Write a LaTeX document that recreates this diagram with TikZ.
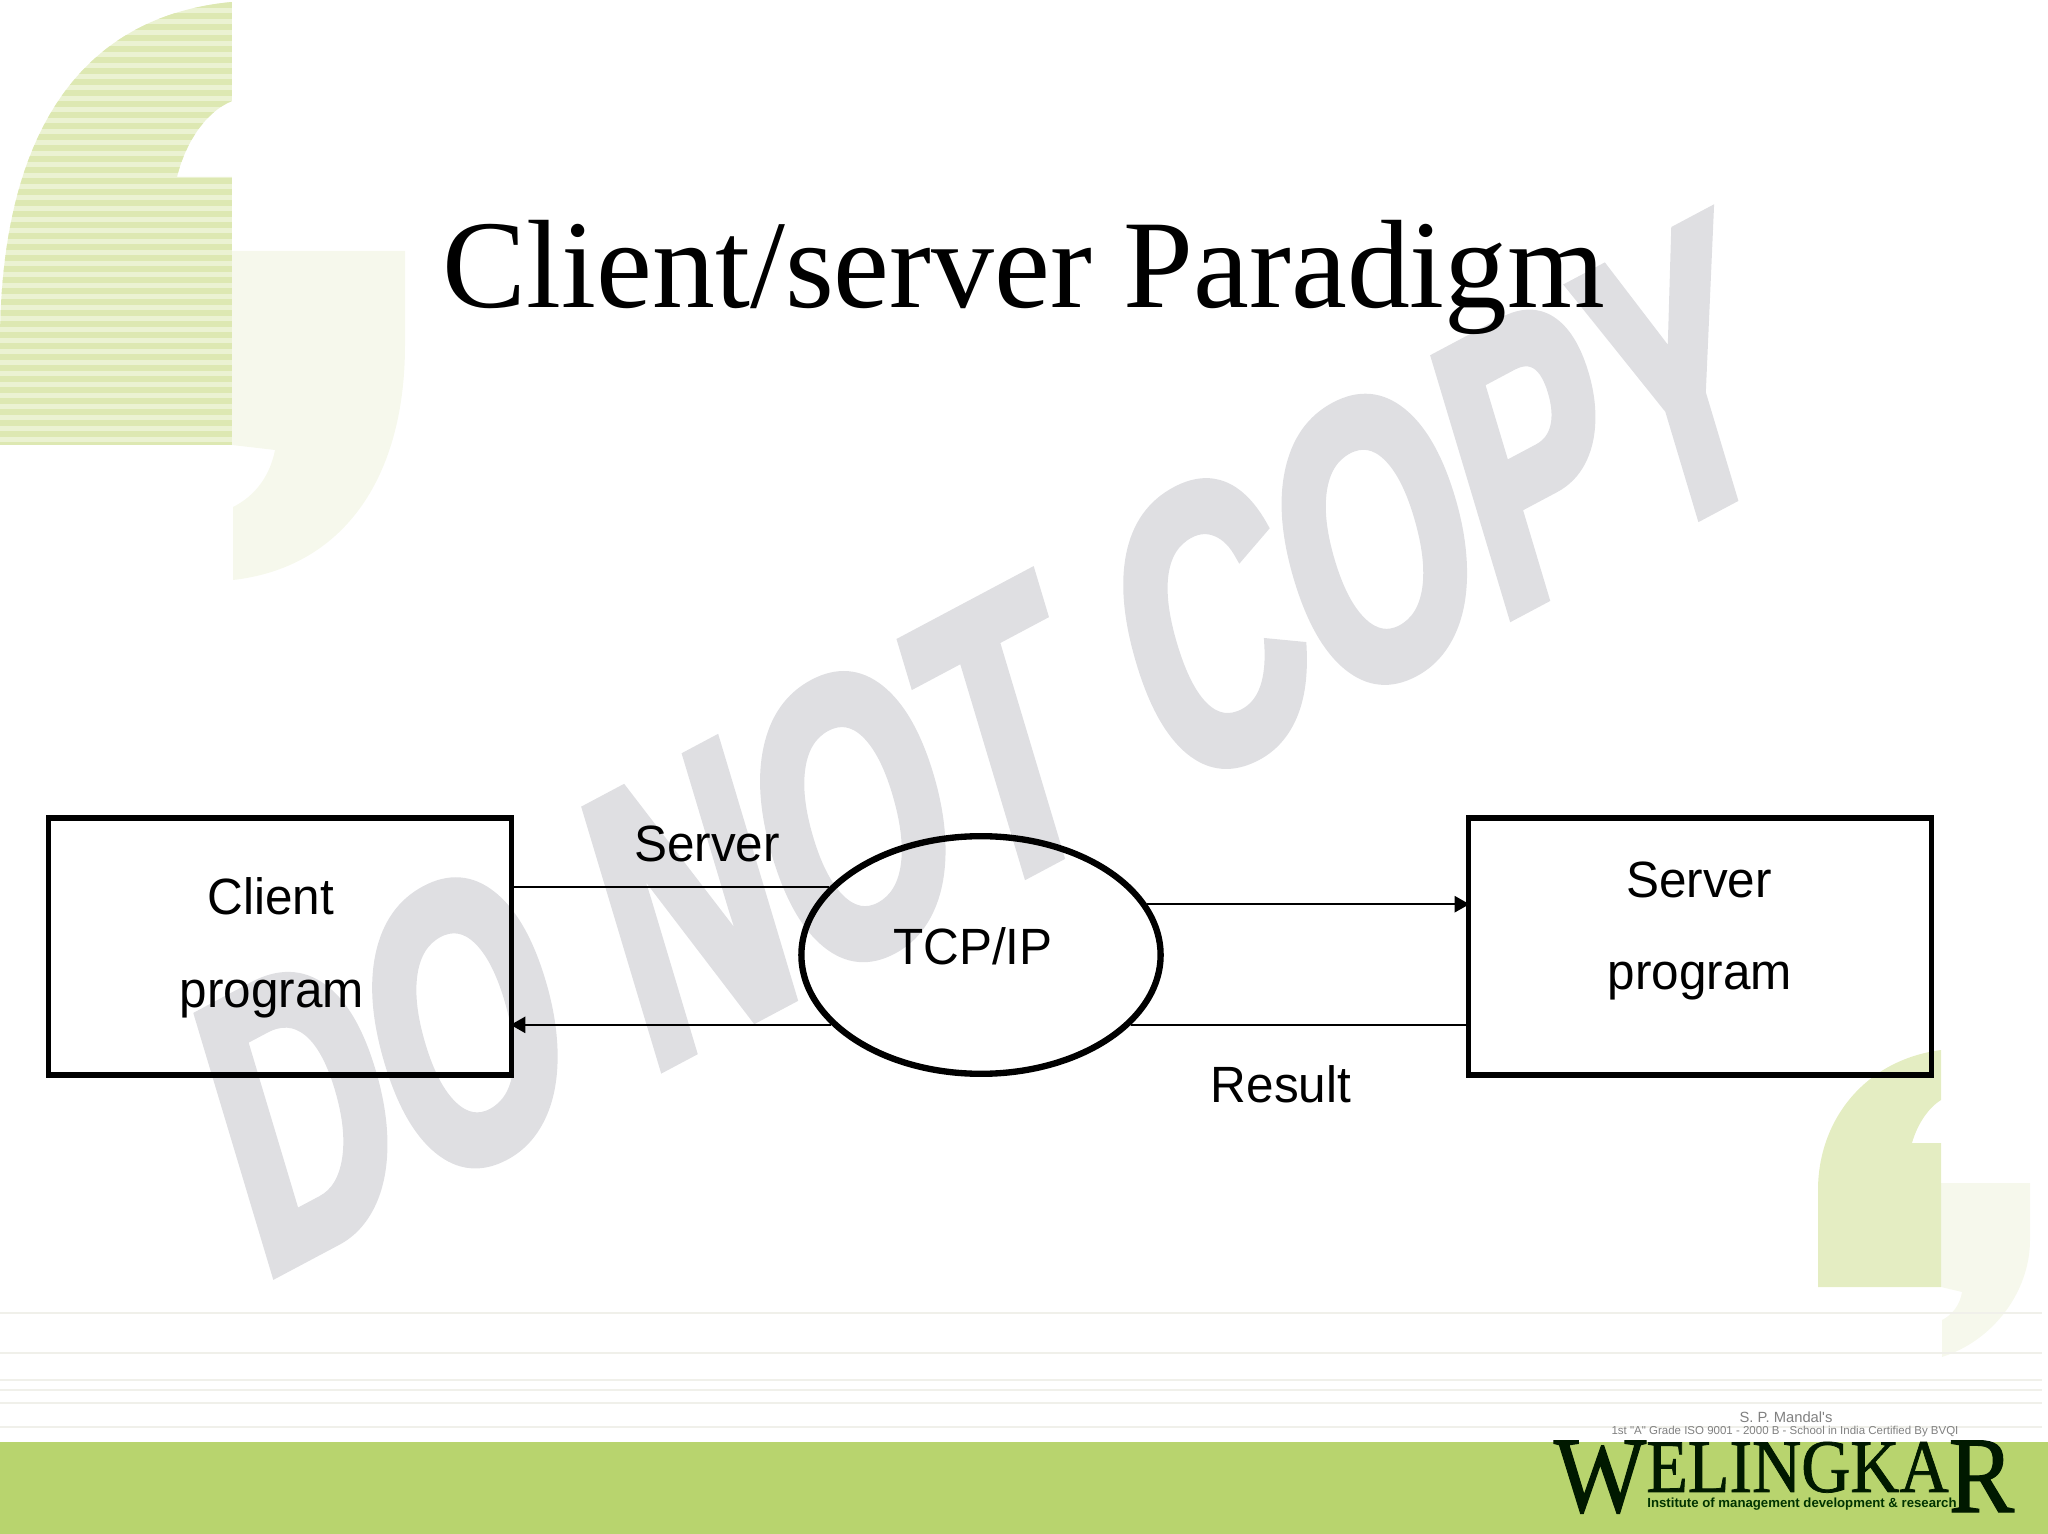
\documentclass[tikz,border=0pt]{standalone}
\usepackage{fontspec}
\usetikzlibrary{arrows.meta,shapes.geometric}
\setmainfont{Liberation Serif}
\newfontfamily\labelfont[FakeStretch=0.97]{Liberation Sans}
\newfontfamily\stampfont[FakeStretch=0.645,FakeSlant=0.2,FakeBold=2.5,UprightFont=* Bold]{Liberation Sans}
\newfontfamily\logofont[FakeStretch=0.9,FakeBold=1]{Liberation Serif}
\newfontfamily\smallfont{Liberation Sans}
\newfontfamily\subfont[UprightFont=* Bold]{Liberation Sans}
\definecolor{stripeA}{HTML}{EBF2D2}
\definecolor{stripeB}{HTML}{DDE8B2}
\definecolor{paleA}{HTML}{F6F8EC}
\definecolor{solidA}{HTML}{E4EDC2}
\definecolor{stampgray}{HTML}{DFDFE2}
\definecolor{rulegray}{HTML}{F0F0EA}
\definecolor{bargreen}{HTML}{B8D46E}
\tikzset{
    progbox/.style={draw, line width=1.6pt, minimum width=4.63cm, minimum height=2.57cm, inner sep=0pt},
    netcloud/.style={draw, ellipse, line width=1.8pt, minimum width=3.59cm, minimum height=2.375cm, inner sep=0pt},
    lbl/.style={font=\labelfont\fontsize{14.5}{16}\selectfont, anchor=base, inner sep=0pt},
    wire/.style={line width=0.6pt},
    arrowwire/.style={wire, shorten >=-1.1pt, -{Triangle[length=4.2pt,width=4.6pt]}},
    barline/.style={rulegray, line width=0.75pt}
}
\begin{document}
\begin{tikzpicture}[x=0.01cm,y=-0.01cm]
    \useasboundingbox (0,0) rectangle (2048,1534);

    % Top left mark
    \fill[paleA] (232,251) -- (405,251) -- (405,345) .. controls (405,482) and (340,568) .. (233,580)
        -- (233,507) .. controls (255,496) and (270,476) .. (275,450) -- (232,445) -- cycle;
    \begin{scope}
        \clip (232,2) -- (232,101) .. controls (205,112) and (185,144) .. (177,177) -- (232,177) -- (232,445)
            -- (0,445) -- (0,344) .. controls (0,149) and (70,17) .. (232,2) -- cycle;
        \fill[stripeA] (0,0) rectangle (232,448);
        \foreach \y in {2,13,...,445} {
            \fill[stripeB] (0,\y) rectangle (232,\y+6);
        }
    \end{scope}

    % Bottom right mark
    \fill[paleA] (1941,1183) -- (2030,1183) -- (2030,1240) .. controls (2030,1290) and (1995,1340) .. (1942,1357)
        -- (1942,1320) .. controls (1952,1315) and (1960,1305) .. (1962,1292) -- (1941,1287) -- cycle;
    \fill[solidA] (1941,1050) -- (1941,1100) .. controls (1928,1108) and (1917,1125) .. (1912,1143) -- (1941,1143)
        -- (1941,1287) -- (1818,1287) -- (1818,1190) .. controls (1818,1120) and (1865,1060) .. (1941,1050) -- cycle;

    % Watermark
    \node[anchor=base west, rotate=28, inner sep=0pt, stampgray, font=\stampfont\fontsize{109}{120}\selectfont] (stamp) at (261,1281) {DO NOT COPY};

    % Lines above the bar
    \foreach \y in {1313,1353,1380,1390,1403,1427} {
        \draw[barline] (0,\y) -- (2042,\y);
    }
    \fill[bargreen] (0,1442) rectangle (2048,1534);

    % Logo
    \node[anchor=base, inner sep=0pt, gray, font=\smallfont\fontsize{4.2}{5}\selectfont] (mandal) at (1786,1422) {S. P. Mandal's};
    \node[anchor=base, inner sep=0pt, gray, font=\smallfont\fontsize{3.27}{4}\selectfont] (grade) at (1785,1434) {1st "A" Grade ISO 9001 - 2000 B - School in India Certified By BVQI};
    \node[anchor=base west, inner sep=0pt, text=black!90!green, font=\logofont] (logo) at (1553,1512) {\fontsize{31}{34}\selectfont W\raisebox{5.7pt}{\fontsize{21.5}{24}\selectfont ELINGKA}R};
    \node[anchor=base, inner sep=0pt, text=black!80!green, font=\subfont\fontsize{3.75}{5}\selectfont] (institute) at (1802,1507) {Institute of management development \& research};

    % Title
    \node[anchor=base, inner sep=0pt, font=\fontsize{35.75}{40}\selectfont] (title) at (1024,308) {Client/server Paradigm};

    % Boxes and ellipse
    \node[progbox] (client) at (280,946.5) {};
    \node[progbox] (server) at (1700,946.5) {};
    \node[netcloud] (tcp) at (981,955) {};

    % Texts
    \node[lbl] (clientA) at (271,915) {Client};
    \node[lbl] (clientB) at (272,1007) {program};
    \node[lbl] (serverA) at (1699,897) {Server};
    \node[lbl] (serverB) at (1700,989) {program};
    \node[lbl] (tcptext) at (973,965) {TCP/IP};
    \node[lbl] (request) at (707,862) {Server};
    \node[lbl] (result) at (1281,1102) {Result};

    % Connections
    \draw[wire] (client.east |- tcp.156) -- (tcp.156);
    \draw[arrowwire] (tcp.17.5) -- (server.west |- tcp.17.5);
    \draw[wire] (tcp.-25) -- (server.west |- tcp.-25);
    \draw[arrowwire] (tcp.205) -- (client.east |- tcp.205);
\end{tikzpicture}
\end{document}
